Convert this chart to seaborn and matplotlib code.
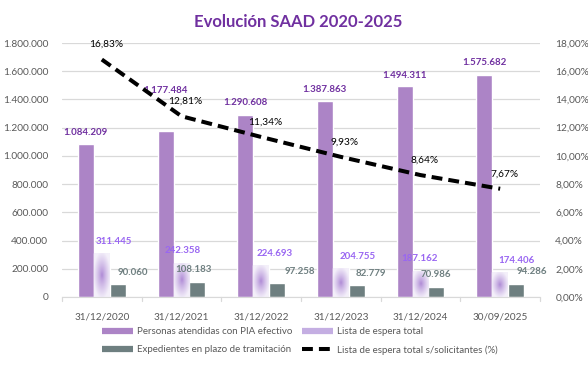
import numpy as np
import pandas as pd
import matplotlib
matplotlib.use('Agg')
import matplotlib.pyplot as plt
from matplotlib.lines import Line2D
import seaborn as sns

fechas = ['31/12/2020', '31/12/2021', '31/12/2022', '31/12/2023', '31/12/2024', '30/09/2025']
personas_pia = [1084209, 1177484, 1290608, 1387863, 1494311, 1575682]
lista_espera = [311445, 242358, 224693, 204755, 187162, 174406]
expedientes_plazo = [90060, 108183, 97258, 82779, 70986, 94286]
pct_espera = [16.83, 12.81, 11.34, 9.93, 8.64, 7.67]

series = ['Personas atendidas con PIA efectivo', 'Lista de espera total',
          'Expedientes en plazo de tramitación']
line_label = 'Lista de espera total s/solicitantes (%)'

# label nudges (pixels) copied from the reference layout
dx_lista = [12, 1, 14, 17, -1, 16]
dx_exp = [15, -4, 23, 14, -1, 16]
dy_pia = [12, 40, 12, 12, 11, 12]

c_pia = '#AC84C6'
c_exp = '#6E7F80'
c_title = '#7030A0'
c_lista_txt = '#9966F2'
c_tick = '#595959'
fs = 7.0


def fmt_miles(v):
    return f'{v:,}'.replace(',', '.')


def fmt_pct(v):
    return f'{v:.2f}%'.replace('.', ',')


df = pd.DataFrame({
    'fecha': fechas * 3,
    'valor': personas_pia + lista_espera + expedientes_plazo,
    'serie': [series[0]] * 6 + [series[1]] * 6 + [series[2]] * 6,
})

sns.set_style('white')
plt.rcParams['font.family'] = ['Lato', 'DejaVu Sans']

fig = plt.figure(figsize=(5.88, 3.69), dpi=100)
ax = fig.add_axes([62 / 588, 1 - 297 / 369, 478 / 588, 254 / 369])

sns.barplot(data=df, x='fecha', y='valor', hue='serie', palette=[c_pia, '#D9CCEB', c_exp],
            width=0.6, saturation=1, legend=False, ax=ax, zorder=2)

ax.set_xlim(-0.5, 5.5)
ax.set_ylim(0, 1800000)
ax.set_yticks(np.arange(0, 1800001, 200000))
ax.set_yticklabels([fmt_miles(int(v)) for v in ax.get_yticks()])
ax.grid(axis='y', color='#D9D9D9', lw=0.9, zorder=0)
ax.set_axisbelow(True)
ax.set_xlabel('')
ax.set_ylabel('')
for s in ['top', 'left', 'right']:
    ax.spines[s].set_visible(False)
ax.spines['bottom'].set_color('#D9D9D9')
ax.tick_params(axis='y', length=0, labelsize=fs + 0.3, labelcolor=c_tick, pad=10)
ax.tick_params(axis='x', length=0, labelsize=fs + 0.2, labelcolor=c_tick, pad=11)
# small ticks between categories
for b in np.arange(-0.5, 6, 1):
    ax.plot([b, b], [0, -0.015], transform=ax.get_xaxis_transform(), color='#D9D9D9',
            lw=0.9, clip_on=False)

# radial gradient fill for the waiting-list bars
yy, xx = np.mgrid[-1:1:80j, -1:1:40j]
r = np.clip(np.sqrt(xx ** 2 + yy ** 2) / 1.1, 0, 1)[..., None] ** 0.8
centre = np.array([172, 134, 212]) / 255
edge = np.array([244, 240, 250]) / 255
grad = centre * (1 - r) + edge * r
for patch in ax.containers[1]:
    x0, y0 = patch.get_x(), patch.get_y()
    w, h = patch.get_width(), patch.get_height()
    patch.set_facecolor('none')
    im = ax.imshow(grad, extent=[x0, x0 + w, y0, y0 + h], aspect='auto', zorder=2,
                   origin='lower', interpolation='bilinear')
    im.set_clip_path(patch)
ax.set_xlim(-0.5, 5.5)
ax.set_ylim(0, 1800000)

# bar labels
px = 1 / 80  # one pixel in x data units
py = 1800000 / 254
for i, (p, l, e) in enumerate(zip(ax.containers[0], ax.containers[1], ax.containers[2])):
    ax.text(p.get_x() + p.get_width() / 2, p.get_height() + dy_pia[i] * py, fmt_miles(personas_pia[i]),
            ha='center', va='center', fontsize=fs, fontweight='bold', color=c_title, zorder=5)
    ax.text(l.get_x() + l.get_width() / 2 + dx_lista[i] * px, l.get_height() + 12 * py,
            fmt_miles(lista_espera[i]), ha='center', va='center', fontsize=fs,
            fontweight='bold', color=c_lista_txt, zorder=5)
    ax.text(e.get_x() + e.get_width() / 2 + dx_exp[i] * px, e.get_height() + 12 * py,
            fmt_miles(expedientes_plazo[i]), ha='center', va='center', fontsize=fs,
            fontweight='bold', color=c_exp, zorder=5)

ax2 = ax.twinx()
sns.lineplot(x=np.arange(len(fechas)), y=pct_espera, ax=ax2, color='black', lw=2.9, zorder=4)
ax2.lines[0].set_dashes([2.7, 1.5])
ax2.set_ylim(0, 18)
ax2.set_yticks(np.arange(0, 18.1, 2))
ax2.set_yticklabels([fmt_pct(v) for v in np.arange(0, 18.1, 2)])
ax2.tick_params(axis='y', length=0, labelsize=fs + 0.3, labelcolor=c_tick, pad=11)
for s in ['top', 'left', 'right', 'bottom']:
    ax2.spines[s].set_visible(False)
for i, v in enumerate(pct_espera):
    ax2.text(i + 4 * px, v + 15 * 18 / 254, fmt_pct(v), ha='center', va='center',
             fontsize=fs + 0.3, color='black', zorder=5)

fig.text(0.507, 1 - 22 / 369, 'Evolución SAAD 2020-2025', ha='center', va='center',
         fontsize=12, fontweight='bold', color=c_title)

handles = [
    Line2D([], [], color=c_pia, lw=4.5, solid_capstyle='butt'),
    Line2D([], [], color=c_exp, lw=4.5, solid_capstyle='butt'),
    Line2D([], [], color='#C4AEE2', lw=4.5, solid_capstyle='butt'),
    Line2D([], [], color='black', lw=2.9, dashes=[2.7, 1.5]),
]
labels = [series[0], series[2], series[1], line_label]
fig.legend(handles, labels, ncol=2, loc='center', bbox_to_anchor=(0.51, 1 - 341 / 369),
           frameon=False, fontsize=fs, handlelength=3.2, columnspacing=1.0,
           labelspacing=0.9, handletextpad=0.4, labelcolor=c_tick)

fig.savefig('out.png', dpi=100)
